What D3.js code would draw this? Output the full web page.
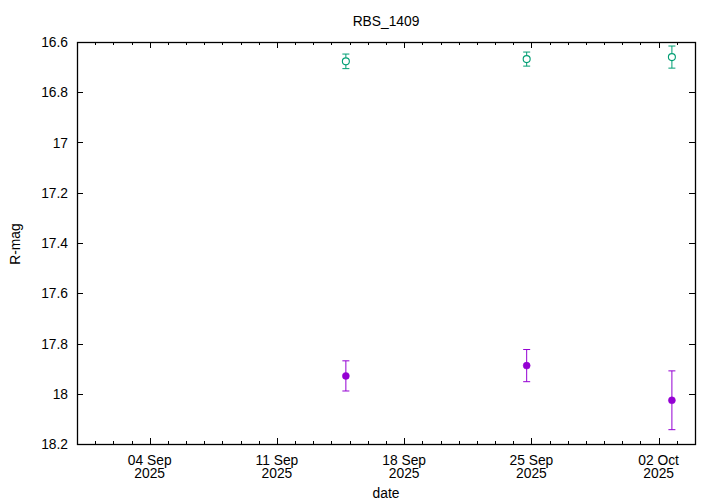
<!DOCTYPE html>
<html>
<head>
<meta charset="utf-8">
<script src="https://cdn.jsdelivr.net/npm/d3@7"></script>
<style>
  body { margin: 0; background: #fff; }
  text { font-family: "Liberation Sans", Arial, sans-serif; font-size: 13.8px; fill: #000; }
</style>
</head>
<body>
<div id="graph"></div>
<script>
// observation dates (UTC) and magnitudes
var dates = ["2025-09-14T19:00", "2025-09-24T17:45", "2025-10-02T17:30"]
var magA = [16.677, 16.668, 16.660]
var errA = [0.029, 0.028, 0.044]
var magB = [17.929, 17.888, 18.026]
var errB = [0.060, 0.064, 0.117]
var yTicks = [16.6, 16.8, 17, 17.2, 17.4, 17.6, 17.8, 18, 18.2]
var xTicks = ["2025-09-04", "2025-09-11", "2025-09-18", "2025-09-25", "2025-10-02"]

var W = 720, H = 504
var pLeft = 77, pRight = 695, pTop = 42, pBottom = 444

var parse = d3.utcParse("%Y-%m-%dT%H:%M")
var parseDay = d3.utcParse("%Y-%m-%d")

var x = d3.scaleUtc()
    .domain([parseDay("2025-08-31"), parseDay("2025-10-04")])
    .range([pLeft, pRight])
var y = d3.scaleLinear().domain([16.6, 18.2]).range([pTop, pBottom])

var svg = d3.select("#graph").append("svg").attr("width", W).attr("height", H)

// ticks (inward, mirrored on all four sides)
var g = svg.append("g").attr("stroke", "#000").attr("stroke-width", 1)
var days = d3.utcDay.range(parseDay("2025-09-01"), parseDay("2025-10-04"))
days.forEach(function (d) {
    var px = Math.round(x(d)) + 0.5
    var major = xTicks.indexOf(d3.utcFormat("%Y-%m-%d")(d)) >= 0
    var len = major ? 6 : 3
    g.append("line").attr("x1", px).attr("x2", px).attr("y1", pBottom).attr("y2", pBottom - len)
    g.append("line").attr("x1", px).attr("x2", px).attr("y1", pTop).attr("y2", pTop + len)
})
yTicks.forEach(function (v) {
    var py = Math.round(y(v)) + 0.5
    g.append("line").attr("x1", pLeft).attr("x2", pLeft + 6).attr("y1", py).attr("y2", py)
    g.append("line").attr("x1", pRight).attr("x2", pRight - 6).attr("y1", py).attr("y2", py)
})

// border
svg.append("rect").attr("x", pLeft + 0.5).attr("y", pTop + 0.5)
    .attr("width", pRight - pLeft).attr("height", pBottom - pTop)
    .attr("fill", "none").attr("stroke", "#000").attr("stroke-width", 1.3)

// y tick labels
svg.selectAll(".ylab").data(yTicks).enter().append("text")
    .attr("x", pLeft - 9).attr("y", function (d) { return y(d) + 5 })
    .attr("text-anchor", "end")
    .text(function (d) { return d3.format("")(+d.toFixed(1)) })

// x tick labels
var fmt1 = d3.utcFormat("%d %b"), fmt2 = d3.utcFormat("%Y")
xTicks.forEach(function (s) {
    var d = parseDay(s)
    var t = svg.append("text").attr("text-anchor", "middle")
    t.append("tspan").attr("x", x(d)).attr("y", 465).text(fmt1(d))
    t.append("tspan").attr("x", x(d)).attr("y", 477.5).text(fmt2(d))
})

// titles
svg.append("text").attr("x", 386).attr("y", 26).attr("text-anchor", "middle").text("RBS_1409")
svg.append("text").attr("x", 386).attr("y", 498).attr("text-anchor", "middle").text("date")
svg.append("text").attr("transform", "translate(19.5,244) rotate(-90)").attr("text-anchor", "middle").text("R-mag")

function series(mags, errs, color, filled) {
    var s = svg.append("g")
    dates.forEach(function (ds, i) {
        var px = x(parse(ds)), y0 = y(mags[i] - errs[i]), y1 = y(mags[i] + errs[i])
        s.append("line").attr("x1", px).attr("x2", px).attr("y1", y0).attr("y2", y1)
            .attr("stroke", color).attr("stroke-width", 1)
        ;[y0, y1].forEach(function (yy) {
            s.append("line").attr("x1", px - 3.5).attr("x2", px + 3.5).attr("y1", yy).attr("y2", yy)
                .attr("stroke", color).attr("stroke-width", 1)
        })
        s.append("circle").attr("cx", px).attr("cy", y(mags[i]))
            .attr("r", 3.5)
            .attr("fill", filled ? color : "#fff")
            .attr("stroke", color).attr("stroke-width", filled ? 0.5 : 1.1)
    })
}
series(magA, errA, "#009e73", false)
series(magB, errB, "#9400d3", true)
</script>
</body>
</html>
